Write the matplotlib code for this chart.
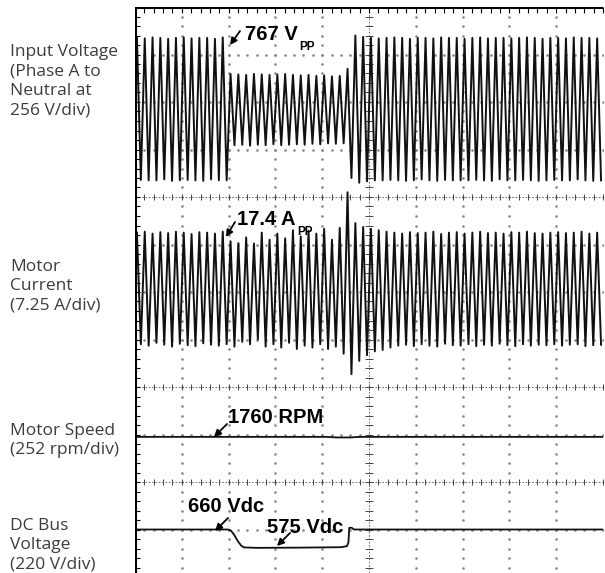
import numpy as np
import matplotlib
matplotlib.use("Agg")
import matplotlib.pyplot as plt


# config =========================================================
DIVS_X = 10            # horizontal divisions (100 ms/div)
CYCLES_PER_DIV = 6     # 60 Hz line
TRACE_COLOR = "#111111"
GRID_COLOR = "#8a8a8a"
LABEL_COLOR = "#3c3c3c"
# ================================================================

# per-cycle peaks of the input voltage, in divisions (256 V/div)
V_POS = [1.50, 1.49, 1.51, 1.50, 1.48, 1.50, 1.51, 1.49, 1.50, 1.50, 1.48, 1.51,
         0.74, 0.73, 0.72, 0.74, 0.73, 0.72, 0.73, 0.74, 0.72, 0.71, 0.72, 0.70,
         0.71, 0.69, 0.70, 0.85, 1.55, 1.52,
         1.50, 1.49, 1.50, 1.51, 1.50, 1.48, 1.50, 1.50, 1.49, 1.51, 1.50, 1.50,
         1.48, 1.50, 1.51, 1.49, 1.50, 1.50, 1.49, 1.50, 1.51, 1.50, 1.48, 1.50,
         1.50, 1.49, 1.51, 1.50, 1.50, 1.49]
V_NEG = [-1.49, -1.50, -1.50, -1.48, -1.51, -1.50, -1.49, -1.50, -1.51, -1.48, -1.50, -1.50,
         -0.76, -0.75, -0.77, -0.75, -0.76, -0.74, -0.76, -0.75, -0.74, -0.75, -0.73, -0.74,
         -0.72, -0.73, -0.72, -1.45, -1.55, -1.52,
         -1.50, -1.50, -1.49, -1.50, -1.51, -1.50, -1.48, -1.50, -1.51, -1.49, -1.50, -1.50,
         -1.50, -1.49, -1.50, -1.51, -1.48, -1.50, -1.50, -1.49, -1.50, -1.51, -1.50, -1.49,
         -1.50, -1.50, -1.48, -1.50, -1.51, -1.50]

# per-cycle peaks of the motor current, in divisions (7.25 A/div)
I_POS = [1.20, 1.22, 1.18, 1.21, 1.19, 1.22, 1.20, 1.17, 1.21, 1.20, 1.18, 1.22,
         1.02, 0.98, 1.10, 0.97, 1.20, 1.05, 1.18, 1.08, 1.25, 1.12, 1.24, 1.18,
         1.28, 1.05, 1.30, 2.05, 1.40, 1.32,
         1.28, 1.25, 1.22, 1.20, 1.18, 1.21, 1.19, 1.20, 1.22, 1.17, 1.20, 1.21,
         1.18, 1.20, 1.22, 1.19, 1.20, 1.18, 1.21, 1.20, 1.22, 1.19, 1.18, 1.20,
         1.21, 1.19, 1.20, 1.22, 1.18, 1.20]
I_NEG = [-1.15, -1.18, -1.12, -1.16, -1.20, -1.14, -1.17, -1.19, -1.13, -1.16, -1.18, -1.15,
         -1.20, -1.10, -1.15, -1.05, -1.20, -1.15, -1.22, -1.12, -1.25, -1.18, -1.22, -1.15,
         -1.25, -1.20, -1.35, -1.78, -1.50, -1.38,
         -1.30, -1.27, -1.22, -1.18, -1.16, -1.19, -1.15, -1.18, -1.20, -1.14, -1.17, -1.18,
         -1.15, -1.19, -1.16, -1.18, -1.14, -1.17, -1.19, -1.15, -1.18, -1.16, -1.17, -1.15,
         -1.18, -1.16, -1.15, -1.19, -1.17, -1.16]

# motor speed (252 rpm/div)
SPEED_T = [0.0, 4.1, 4.3, 4.6, 4.8, 10.0]
SPEED_RPM = [1760, 1760, 1757, 1757, 1760, 1760]

# dc bus voltage (220 V/div)
DC_T = [0.0, 1.99, 2.05, 2.12, 2.20, 2.27, 2.33, 2.6, 3.5, 4.4, 4.53, 4.56, 4.58, 4.63, 4.68, 10.0]
DC_V = [660, 660, 655, 635, 605, 585, 577, 575, 576, 578, 583, 600, 668, 668, 660, 660]

# channel references (screen divisions from bottom) and scales
V_CENTER = 9.85
I_CENTER = 6.05
SPEED_REF = (2.95, 1760, 252)   # position, value, units/div
DC_REF = (1.0, 660, 220)

LEFT_LABELS = [
    ("Input Voltage\n(Phase A to\nNeutral at\n256 V/div)", 53),
    ("Motor\nCurrent\n(7.25 A/div)", 268),
    ("Motor Speed\n(252 rpm/div)", 432),
    ("DC Bus\nVoltage\n(220 V/div)", 527),
]

# callouts: text, subscript, text baseline px, arrow tail px, arrow head px
CALLOUTS = [
    ("767 V", "PP", (245, 40), (240, 31), (230, 45)),
    ("17.4 A", "PP", (237, 225), (235, 222), (226, 237)),
    ("1760 RPM", None, (228, 423), (227, 424), (214, 437)),
    ("660 Vdc", None, (188, 512), (228, 518), (215, 531)),
    ("575 Vdc", None, (267, 533), (290, 533), (277, 546)),
]


def peak_trace(pos, neg, center):
    # alternate positive / negative peaks every half cycle
    t, y = [], []
    for k, (p, n) in enumerate(zip(pos, neg)):
        t += [(k + 0.25) / CYCLES_PER_DIV, (k + 0.75) / CYCLES_PER_DIV]
        y += [center + p, center + n]
    return t, y


def draw_grid(ax):
    sub = np.arange(0, 12.01, 0.2)
    subx = np.arange(0, DIVS_X + 0.01, 0.2)

    # dotted graticule
    for gx in range(1, DIVS_X):
        if gx != 5:
            ax.plot(np.full_like(sub, gx), sub, ls="none", marker="o", ms=0.9,
                    color=GRID_COLOR, zorder=1)
    for gy in [1, 3, 5, 6, 7, 9, 10, 11]:
        ax.plot(subx, np.full_like(subx, gy), ls="none", marker="o", ms=0.9,
                color=GRID_COLOR, zorder=1)

    # ticked separator lines
    for gy in [2, 4, 8]:
        ax.axhline(gy, ls=(0, (2, 2)), lw=0.6, color="#555555", zorder=1)
        ax.plot(subx, np.full_like(subx, gy), ls="none", marker="|", ms=5,
                mew=0.7, color="#444444", zorder=1)
    ax.axvline(5, ls=(0, (2, 2)), lw=0.6, color="#555555", zorder=1)
    ax.plot(np.full_like(sub, 5), sub, ls="none", marker="_", ms=6,
            mew=0.7, color="#444444", zorder=1)

    # borders with inward ticks
    ax.axvline(0, lw=2.2, color="black", zorder=3)
    ax.axhline(12, lw=2.2, color="black", zorder=3)
    ax.plot(np.full_like(sub, 0.05), sub, ls="none", marker="_", ms=5,
            mew=0.8, color="black", zorder=3)
    ax.plot(subx, np.full_like(subx, 11.93), ls="none", marker="|", ms=4,
            mew=0.8, color="black", zorder=3)


def px_to_data(p):
    # reference pixel -> screen divisions
    return (p[0] - 135) / 46.8, 12 - (p[1] - 7) / 47.5


def callout(ax, text, sub, pos, tail, head):
    fam = ["Liberation Sans", "DejaVu Sans"]
    t = ax.text(*px_to_data(pos), text, fontsize=14.5, fontweight="bold",
                family=fam, ha="left", va="baseline", color="black", zorder=5)
    if sub:
        ax.annotate(sub, xy=(1, 0), xycoords=t, xytext=(1, -4.5),
                    textcoords="offset points", fontsize=8.5, fontweight="bold",
                    family=fam, ha="left", va="baseline", color="black", zorder=5)
    ax.annotate("", xy=px_to_data(head), xytext=px_to_data(tail),
                arrowprops=dict(arrowstyle="-|>", color="black", lw=1.3,
                                mutation_scale=10, shrinkA=0, shrinkB=0),
                zorder=5)


def main():
    fig = plt.figure(figsize=(6.05, 5.73), dpi=100)
    ax = fig.add_axes([135 / 605, 0, 468 / 605, 1 - 7 / 573])
    ax.set_xlim(0, DIVS_X)
    ax.set_ylim(12 - 566 / 47.5, 12)
    ax.axis("off")

    draw_grid(ax)

    # input voltage
    t, y = peak_trace(V_POS, V_NEG, V_CENTER)
    ax.plot(t, y, color=TRACE_COLOR, lw=1.4, zorder=2)

    # motor current
    t, y = peak_trace(I_POS, I_NEG, I_CENTER)
    ax.plot(t, y, color=TRACE_COLOR, lw=1.4, zorder=2)

    # motor speed
    pos, ref, scale = SPEED_REF
    ax.plot(SPEED_T, [pos + (v - ref) / scale for v in SPEED_RPM],
            color=TRACE_COLOR, lw=1.3, zorder=2)

    # dc bus
    pos, ref, scale = DC_REF
    ax.plot(DC_T, [pos + (v - ref) / scale for v in DC_V],
            color=TRACE_COLOR, lw=1.3, zorder=2)

    for text, sub, p, tail, head in CALLOUTS:
        callout(ax, text, sub, p, tail, head)

    # channel labels on the left
    for text, py in LEFT_LABELS:
        fig.text(10 / 605, 1 - (py - 9) / 573, text, fontsize=12.5,
                 family=["Open Sans", "DejaVu Sans"], color=LABEL_COLOR,
                 ha="left", va="top", linespacing=1.28)

    fig.savefig("out.png", dpi=100)


if __name__ == "__main__":
    main()
